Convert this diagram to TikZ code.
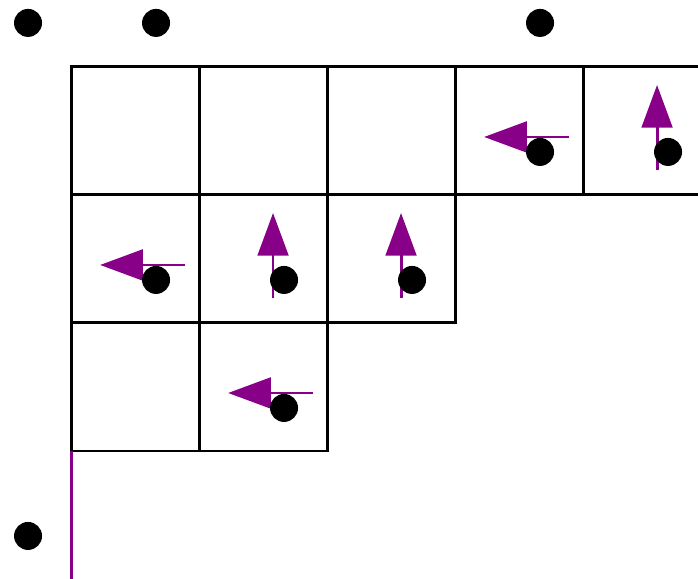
\documentclass[tikz,border=0pt]{standalone}
\usetikzlibrary{arrows.meta}
\definecolor{movearm}{HTML}{880088}

\begin{document}
\begin{tikzpicture}[x=96pt,y=-96pt,line width=2.2pt,
  cellline/.style={black,line cap=rect},
  moveleft/.style={movearm,line width=2.2pt,-{Triangle[length=32pt,width=23pt]}},
  moveup/.style={movearm,line width=2.2pt,-{Triangle[length=32pt,width=23pt]}},
  bead/.style={black}]
\useasboundingbox (-0.555,-0.523) rectangle (4.898,4.0);
\clip (-0.555,-0.523) rectangle (4.898,4.0);
% frame of the cells
\draw[cellline] (0,0) -- (5,0);
\draw[cellline] (0,1) -- (5,1);
\draw[cellline] (0,2) -- (3,2);
\draw[cellline] (0,3) -- (2,3);
\draw[cellline] (0,0) -- (0,3);
\draw[cellline] (1,0) -- (1,3);
\draw[cellline] (2,0) -- (2,3);
\draw[cellline] (3,0) -- (3,2);
\draw[cellline] (4,0) -- (4,1);
\draw[movearm,line width=2.2pt] (0,3) -- (0,4.05);
% moves
\draw[moveleft] (3.89,0.547) -- (3.227,0.547);
\draw[moveup] (4.578,0.805) -- (4.578,0.141);
\draw[moveleft] (0.89,1.547) -- (0.227,1.547);
\draw[moveup] (1.578,1.805) -- (1.578,1.141);
\draw[moveup] (2.578,1.805) -- (2.578,1.141);
\draw[moveleft] (1.89,2.547) -- (1.227,2.547);
% beads
\fill[bead] (-0.336,-0.344) circle (10.5pt);
\fill[bead] (0.664,-0.344) circle (10.5pt);
\fill[bead] (3.664,-0.344) circle (10.5pt);
\fill[bead] (-0.336,3.664) circle (10.5pt);
\fill[bead] (3.664,0.664) circle (10.5pt);
\fill[bead] (4.664,0.664) circle (10.5pt);
\fill[bead] (0.664,1.664) circle (10.5pt);
\fill[bead] (1.664,1.664) circle (10.5pt);
\fill[bead] (2.664,1.664) circle (10.5pt);
\fill[bead] (1.664,2.664) circle (10.5pt);
\end{tikzpicture}
\end{document}
